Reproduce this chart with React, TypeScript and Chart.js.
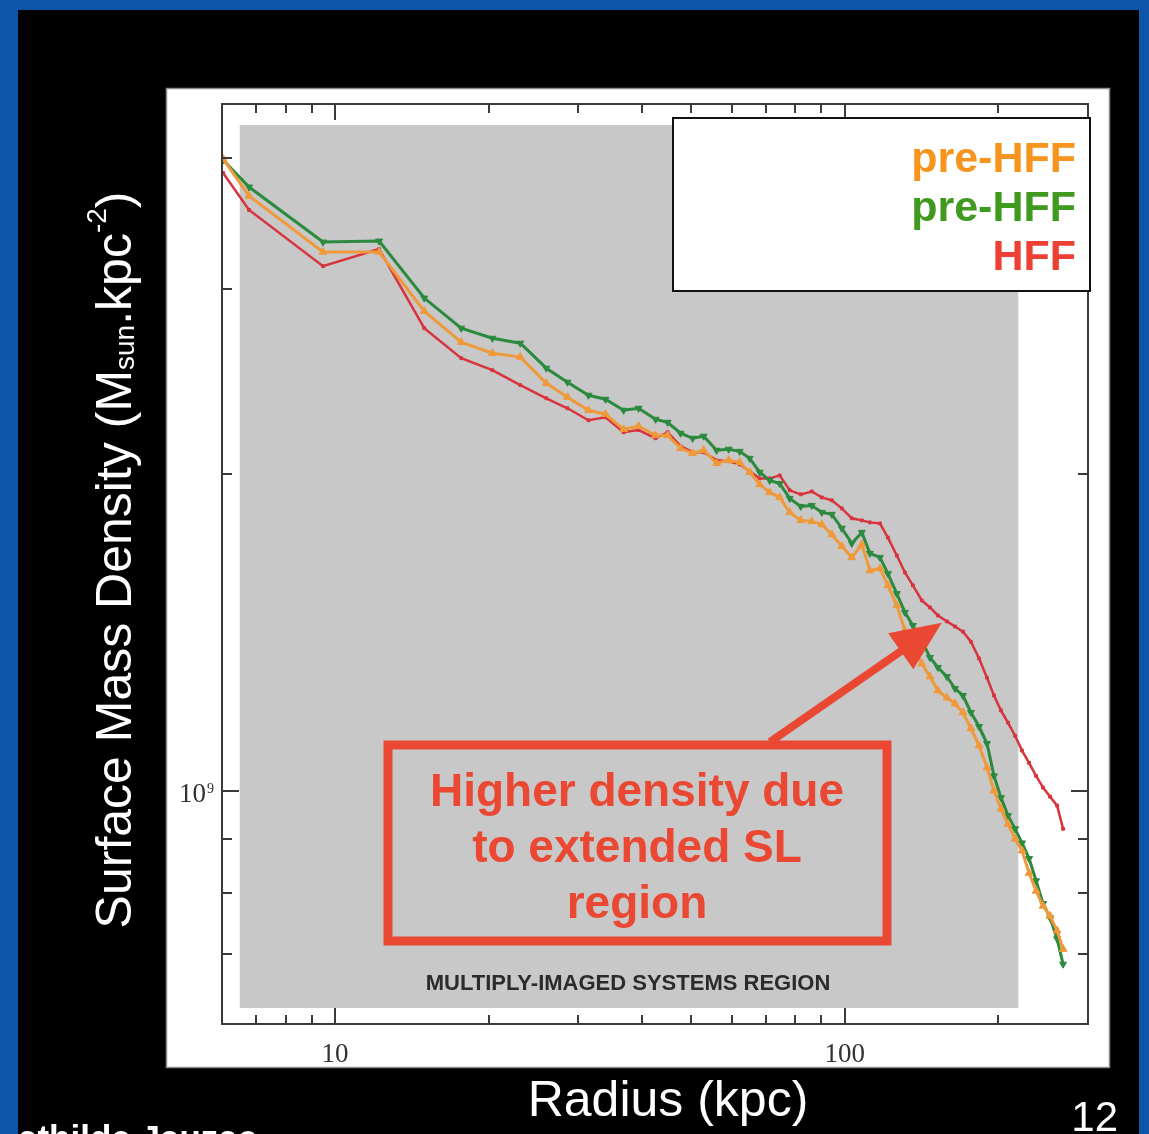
import React, { useEffect, useRef } from "react";
import { Chart, registerables } from "chart.js";

Chart.register(...registerables);

// ---------- data (radius in kpc, surface mass density in units of 1e9 Msun/kpc^2) ----------
const radiusKpc = [
  6.03, 6.78, 9.47, 12.2, 14.96, 17.68, 20.35, 23.09, 25.97, 28.57,
  31.41, 33.92, 36.81, 39.39, 42.54, 44.91, 47.62, 50.28, 52.84, 56.04,
  59.17, 62.19, 65.07, 68.08, 71.23, 74.52, 77.97, 81.95, 86.13, 90.12,
  94.29, 98.65, 103.2, 108.0, 112.0, 117.2, 121.5, 126.5, 131.2, 136.0,
  141.6, 146.9, 152.3, 158.6, 164.5, 170.5, 176.8, 183.4, 190.1, 196.2,
  202.5, 209.0, 215.8, 222.7, 229.9, 237.3, 244.9, 252.8, 260.9, 268.1,
];

const preHffOrange = [
  3.99, 3.679, 3.254, 3.254, 2.859, 2.671, 2.607, 2.585, 2.441, 2.368,
  2.301, 2.281, 2.207, 2.222, 2.178, 2.178, 2.117, 2.094, 2.108, 2.049,
  2.062, 2.053, 2.009, 1.956, 1.922, 1.901, 1.84, 1.808, 1.804, 1.792,
  1.753, 1.708, 1.667, 1.715, 1.62, 1.627, 1.568, 1.501, 1.42, 1.374,
  1.321, 1.284, 1.245, 1.226, 1.21, 1.187, 1.146, 1.104, 1.052, 1.0,
  0.961, 0.93, 0.9, 0.877, 0.835, 0.803, 0.777, 0.76, 0.736, 0.707,
];

const preHffGreen = [
  3.981, 3.752, 3.326, 3.333, 2.942, 2.754, 2.694, 2.665, 2.523, 2.447,
  2.378, 2.357, 2.301, 2.311, 2.256, 2.241, 2.188, 2.164, 2.174, 2.108,
  2.113, 2.103, 2.071, 2.009, 1.973, 1.96, 1.897, 1.864, 1.868, 1.84,
  1.832, 1.777, 1.719, 1.761, 1.682, 1.667, 1.609, 1.54, 1.478, 1.436,
  1.389, 1.339, 1.31, 1.284, 1.251, 1.232, 1.187, 1.151, 1.109, 1.033,
  0.985, 0.947, 0.92, 0.892, 0.862, 0.821, 0.781, 0.757, 0.723, 0.684,
];

const hffRed = [
  3.869, 3.568, 3.155, 3.275, 2.754, 2.579, 2.512, 2.431, 2.362, 2.311,
  2.251, 2.266, 2.193, 2.203, 2.164, 2.193, 2.127, 2.099, 2.099, 2.062,
  2.058, 2.044, 2.013, 1.982, 1.982, 1.995, 1.931, 1.914, 1.926, 1.901,
  1.889, 1.856, 1.816, 1.808, 1.8, 1.796, 1.741, 1.674, 1.613, 1.568,
  1.517, 1.494, 1.468, 1.449, 1.433, 1.417, 1.386, 1.336, 1.281, 1.232,
  1.192, 1.161, 1.128, 1.092, 1.063, 1.033, 1.007, 0.987, 0.968, 0.92,
];

const seriesLabels = ["pre-HFF", "pre-HFF", "HFF"];
const xMajorTicks = [10, 100];
const xTickLabels = ["10", "100"];
const xMinorTicks = [7, 8, 9, 20, 30, 40, 50, 60, 70, 80, 90, 200];
const yMajorTicks = [1e9];
const yMinorTicks = [7e8, 8e8, 9e8, 2e9, 3e9, 4e9];
const multiplyImagedRegion = [6.5, 219]; // kpc
const arrowTarget = { radius: 155, density: 1.445e9 };

const annotationLines = ["Higher density due", "to extended SL", "region"];

// ---------- styling ----------
const W = 1149;
const H = 1134;
const SANS = '"Liberation Sans", Arial, Helvetica, sans-serif';
const SERIF = '"Liberation Serif", "Times New Roman", serif';
const lineColors = ["#f0993a", "#2b8a3e", "#d9343d"];
const legendColors = ["#f7941d", "#3f9a1f", "#ee3f33"];
const annotationRed = "#ea4832";

const slidePlugin = {
  id: "slide",
  beforeDraw(chart: any) {
    const ctx = chart.ctx as CanvasRenderingContext2D;
    const { top, bottom } = chart.chartArea;
    const xs = chart.scales.x;
    ctx.save();
    ctx.fillStyle = "#000";
    ctx.fillRect(0, 0, W, H);
    // white figure panel
    ctx.fillStyle = "#fff";
    ctx.fillRect(166, 88, 944, 980);
    ctx.strokeStyle = "#8c8c8c";
    ctx.lineWidth = 1.5;
    ctx.strokeRect(166.5, 88.5, 943, 979);
    // grey multiply-imaged region
    const gx0 = xs.getPixelForValue(multiplyImagedRegion[0]);
    const gx1 = xs.getPixelForValue(multiplyImagedRegion[1]);
    ctx.fillStyle = "#c8c8c8";
    ctx.fillRect(gx0, top + 21, gx1 - gx0, bottom - top - 37);
    // region caption
    ctx.fillStyle = "#2b2b2b";
    ctx.font = `bold 22px ${SANS}`;
    ctx.textAlign = "center";
    ctx.textBaseline = "alphabetic";
    ctx.fillText("MULTIPLY-IMAGED SYSTEMS REGION", 628, 990, 410);
    ctx.restore();
  },
  afterDatasetsDraw(chart: any) {
    const ctx = chart.ctx as CanvasRenderingContext2D;
    const { left, right, top, bottom } = chart.chartArea;
    const xs = chart.scales.x;
    const ys = chart.scales.y;
    ctx.save();
    ctx.strokeStyle = "#3a3a3a";
    ctx.lineWidth = 2;
    const seg = (x0: number, y0: number, x1: number, y1: number) => {
      ctx.beginPath();
      ctx.moveTo(x0, y0);
      ctx.lineTo(x1, y1);
      ctx.stroke();
    };
    const tickX = (v: number, len: number) => {
      const p = Math.round(xs.getPixelForValue(v));
      seg(p, bottom, p, bottom - len);
      seg(p, top, p, top + len);
    };
    const tickY = (v: number, len: number) => {
      const p = Math.round(ys.getPixelForValue(v));
      seg(left, p, left + len, p);
      seg(right, p, right - len, p);
    };
    xMajorTicks.forEach((v) => tickX(v, 16));
    xMinorTicks.forEach((v) => tickX(v, 9));
    yMajorTicks.forEach((v) => tickY(v, 17));
    yMinorTicks.forEach((v) => tickY(v, 10));
    ctx.strokeRect(left, top, right - left, bottom - top);

    // tick labels
    ctx.fillStyle = "#333";
    ctx.font = `27px ${SERIF}`;
    ctx.textAlign = "center";
    ctx.textBaseline = "alphabetic";
    xMajorTicks.forEach((v, i) => {
      ctx.fillText(xTickLabels[i], xs.getPixelForValue(v), 1062);
    });
    yMajorTicks.forEach((v) => {
      const p = ys.getPixelForValue(v);
      const exp = Math.round(Math.log10(v));
      ctx.font = `27px ${SERIF}`;
      ctx.textAlign = "right";
      ctx.fillText("10", 206, p + 11);
      ctx.font = `14px ${SERIF}`;
      ctx.textAlign = "left";
      ctx.fillText(String(exp), 207, p + 2);
    });

    // legend box
    ctx.fillStyle = "#fff";
    ctx.fillRect(673, 118, 417, 173);
    ctx.strokeStyle = "#111";
    ctx.lineWidth = 2;
    ctx.strokeRect(673, 118, 417, 173);
    ctx.font = `bold 43px ${SANS}`;
    ctx.textAlign = "right";
    seriesLabels.forEach((lab, i) => {
      ctx.fillStyle = legendColors[i];
      ctx.fillText(lab, 1076, 172 + i * 49, 165);
    });

    // annotation box
    ctx.strokeStyle = annotationRed;
    ctx.lineWidth = 9;
    ctx.strokeRect(388, 745, 499, 196);
    ctx.fillStyle = annotationRed;
    ctx.font = `bold 46px ${SANS}`;
    ctx.textAlign = "center";
    annotationLines.forEach((t, i) => {
      ctx.fillText(t, 637, 806 + i * 56);
    });

    // arrow from box to HFF curve
    const tx = xs.getPixelForValue(arrowTarget.radius);
    const ty = ys.getPixelForValue(arrowTarget.density);
    const sx = 770;
    const sy = 742;
    const dx = tx - sx;
    const dy = ty - sy;
    const L = Math.hypot(dx, dy);
    const ux = dx / L;
    const uy = dy / L;
    const headLen = 50;
    const headHalf = 22;
    const bx = tx - ux * headLen;
    const by = ty - uy * headLen;
    ctx.lineWidth = 8;
    ctx.lineCap = "butt";
    seg(sx, sy, bx + ux * 4, by + uy * 4);
    ctx.beginPath();
    ctx.moveTo(tx, ty);
    ctx.lineTo(bx - uy * headHalf, by + ux * headHalf);
    ctx.lineTo(bx + uy * headHalf, by - ux * headHalf);
    ctx.closePath();
    ctx.fill();
    ctx.restore();
  },
  afterDraw(chart: any) {
    const ctx = chart.ctx as CanvasRenderingContext2D;
    ctx.save();
    ctx.fillStyle = "#fff";
    ctx.textBaseline = "alphabetic";

    // y axis title
    ctx.save();
    ctx.translate(113, 560);
    ctx.rotate(-Math.PI / 2);
    const segs = [
      { t: "Surface Mass Density (M", f: `50px ${SANS}`, dy: 0 },
      { t: "sun", f: `28px ${SANS}`, dy: 3 },
      { t: ".kpc", f: `50px ${SANS}`, dy: 0 },
      { t: "-2", f: `28px ${SANS}`, dy: -25 },
      { t: ")", f: `50px ${SANS}`, dy: 0 },
    ];
    let total = 0;
    segs.forEach((s) => {
      ctx.font = s.f;
      total += ctx.measureText(s.t).width;
    });
    let cx = -total / 2;
    ctx.textAlign = "left";
    segs.forEach((s) => {
      ctx.font = s.f;
      ctx.fillText(s.t, cx, 18 + s.dy);
      cx += ctx.measureText(s.t).width;
    });
    ctx.restore();

    // x axis title
    ctx.font = `50px ${SANS}`;
    ctx.textAlign = "center";
    ctx.fillText("Radius (kpc)", 668, 1116);

    // slide number
    ctx.font = `42px ${SANS}`;
    ctx.textAlign = "right";
    ctx.fillText("12", 1118, 1131);

    // footer author (cut off)
    ctx.font = `bold 35px ${SANS}`;
    ctx.textAlign = "left";
    const mW = ctx.measureText("M").width;
    ctx.fillText("Mathilde Jauzac", 18 - mW, 1150);

    // blue slide frame
    ctx.fillStyle = "#0b56a8";
    ctx.fillRect(0, 0, 18, H);
    ctx.fillRect(0, 0, W, 10);
    ctx.fillRect(1139, 0, W - 1139, H);
    ctx.restore();
  },
};

export default function App() {
  const ref = useRef<HTMLCanvasElement>(null);

  useEffect(() => {
    const canvas = ref.current;
    if (!canvas) return;
    const toPoints = (vals: number[]) =>
      radiusKpc.map((r, i) => ({ x: r, y: vals[i] * 1e9 }));
    const chart = new Chart(canvas, {
      type: "line",
      data: {
        datasets: [
          {
            label: seriesLabels[0],
            data: toPoints(preHffOrange),
            borderColor: lineColors[0],
            backgroundColor: lineColors[0],
            borderWidth: 3,
            pointStyle: "triangle",
            pointRadius: 4.5,
            pointBorderWidth: 1,
            tension: 0,
          },
          {
            label: seriesLabels[1],
            data: toPoints(preHffGreen),
            borderColor: lineColors[1],
            backgroundColor: lineColors[1],
            borderWidth: 3,
            pointStyle: "triangle",
            pointRotation: 180,
            pointRadius: 4,
            pointBorderWidth: 1,
            tension: 0,
          },
          {
            label: seriesLabels[2],
            data: toPoints(hffRed),
            borderColor: lineColors[2],
            backgroundColor: lineColors[2],
            borderWidth: 2.5,
            pointStyle: "rect",
            pointRadius: 2,
            pointBorderWidth: 1,
            tension: 0,
          },
        ],
      },
      options: {
        animation: false,
        responsive: false,
        devicePixelRatio: 1,
        layout: { padding: { left: 222, right: W - 1088, top: 104, bottom: H - 1024 } },
        plugins: {
          legend: { display: false },
          tooltip: { enabled: false },
        },
        events: [],
        scales: {
          x: { type: "logarithmic", min: 6, max: 300, display: false },
          y: { type: "logarithmic", min: 6e8, max: 4.5e9, display: false },
        },
      },
      plugins: [slidePlugin],
    } as any);
    return () => chart.destroy();
  }, []);

  return (
    <div style={{ position: "absolute", left: 0, top: 0, width: W, height: H, overflow: "hidden" }}>
      <canvas ref={ref} width={W} height={H} style={{ display: "block", width: W, height: H }} />
    </div>
  );
}
